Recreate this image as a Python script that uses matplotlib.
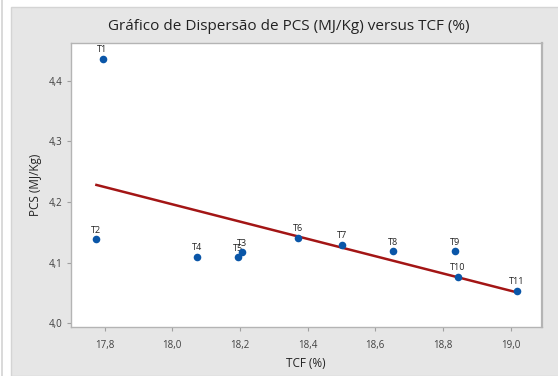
import numpy as np
import matplotlib
matplotlib.use("Agg")
import matplotlib.pyplot as plt
from matplotlib.patches import Rectangle

# dados
labels = ["T1", "T2", "T3", "T4", "T5", "T6", "T7", "T8", "T9", "T10", "T11"]
tcf = [17.794, 17.776, 18.206, 18.074, 18.193, 18.372, 18.503, 18.652, 18.835, 18.845, 19.019]
pcs = [4.436, 4.139, 4.117, 4.110, 4.109, 4.141, 4.130, 4.119, 4.119, 4.077, 4.054]

xticks = [17.8, 18.0, 18.2, 18.4, 18.6, 18.8, 19.0]
yticks = [4.0, 4.1, 4.2, 4.3, 4.4]

plt.rcParams['font.family'] = ['Open Sans', 'DejaVu Sans']

fig = plt.figure(figsize=(5.58, 3.76), dpi=100)
fig.patch.set_facecolor('white')
fig.patches.append(Rectangle((11 / 558, 0), 1, 369 / 376, transform=fig.transFigure,
                             facecolor='#E6E6E6', edgecolor='#D4D4D4', lw=1, zorder=-5))
fig.patches.append(Rectangle((1 / 558, 0), 1.5 / 558, 1, transform=fig.transFigure,
                             facecolor='#DADADA', edgecolor='none', zorder=-5))

ax = fig.add_axes([0.1267, 0.1303, 0.8441, 0.7545])
ax.set_zorder(2)
ax.set_facecolor('white')

# reta de regressão
coef = np.polyfit(tcf, pcs, 1)
xl = np.array([min(tcf), max(tcf)])
ax.plot(xl, np.polyval(coef, xl), color='#A31515', lw=1.8, zorder=2)

ax.scatter(tcf, pcs, s=30, color='#0A56A8', zorder=3, linewidths=0)
for lab, x, y in zip(labels, tcf, pcs):
    ax.annotate(lab, (x, y), xytext=(0, 9), textcoords='offset pixels',
                ha='center', va='center', fontsize=6.5, color='#222222', zorder=1)

ax.set_xlim(17.70, 19.092)
ax.set_ylim(3.994, 4.4617)
ax.set_xticks(xticks)
ax.set_yticks(yticks)
ax.set_xticklabels([f"{t:.1f}".replace('.', ',') for t in xticks])
ax.set_yticklabels([f"{t:.1f}".replace('.', ',') for t in yticks])
ax.tick_params(direction='out', length=3, width=0.8, color='#A0A0A0',
               labelsize=7, labelcolor='#404040', pad=3)
ax.tick_params(axis='x', pad=6)
for s in ax.spines.values():
    s.set_color('#B4B4B4')
    s.set_linewidth(1)
ax.spines['right'].set_linewidth(1.6)

fig.text(288.5 / 558, 1 - 27 / 376, "Gráfico de Dispersão de PCS (MJ/Kg) versus TCF (%)",
         fontsize=11, color='#222222', ha='center', va='center')
ax.set_xlabel("TCF (%)", fontsize=8.5, color='#222222', labelpad=5)
ax.set_ylabel("PCS (MJ/Kg)", fontsize=8.5, color='#222222', labelpad=5)

fig.savefig("out.png", dpi=100)
